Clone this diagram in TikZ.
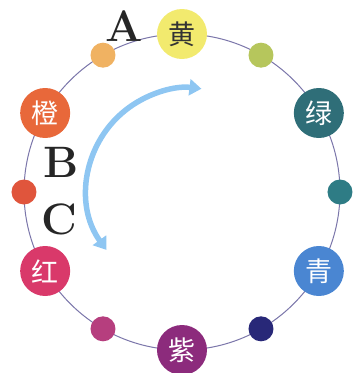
\documentclass[tikz,border=0pt]{standalone}
\usepackage{fontspec}
\newfontfamily\cjk{Noto Sans CJK SC}
\usetikzlibrary{arrows.meta,calc}

\definecolor{ringline}{HTML}{7B76AA}
\definecolor{huang}{HTML}{F2EA6E}
\definecolor{chengqian}{HTML}{F0B262}
\definecolor{cheng}{HTML}{E8683A}
\definecolor{hongqian}{HTML}{E0553C}
\definecolor{hong}{HTML}{D9396A}
\definecolor{ziqian}{HTML}{B63E7E}
\definecolor{zi}{HTML}{8C2B7C}
\definecolor{qingshen}{HTML}{282878}
\definecolor{qing}{HTML}{4A86D2}
\definecolor{lvshen}{HTML}{2E7C85}
\definecolor{lv}{HTML}{2F6E78}
\definecolor{huanglv}{HTML}{B6C65C}
\definecolor{arrowblue}{HTML}{8EC6F2}

\begin{document}
\begin{tikzpicture}
[ x=1pt, y=1pt
, main/.style={circle, minimum size=50pt, inner sep=0pt, text=white, font=\cjk\fontsize{27}{27}\selectfont}
, minor/.style={circle, minimum size=25pt, inner sep=0pt}
, letter/.style={font=\fontsize{44}{44}\selectfont\bfseries, text=black!85}
, bidir/.style={line width=5.5pt, draw=arrowblue, {Triangle[length=12pt,width=16pt]}-{Triangle[length=12pt,width=16pt]}}
]
\useasboundingbox (-182,-181) rectangle (171,192);
% the ring
\draw [ringline, line width=1pt] (0,0) circle (158);
% main colours
\node (huang) [main, fill=huang, text=black!80] at (90:158) {黄};
\node (cheng) [main, fill=cheng] at (150:158) {橙};
\node (hong) [main, fill=hong] at (210:158) {红};
\node (zi) [main, fill=zi] at (270:158) {紫};
\node (qing) [main, fill=qing] at (330:158) {青};
\node (lv) [main, fill=lv] at (30:158) {绿};
% in between
\node (chengqian) [minor, fill=chengqian] at (120:158) {};
\node (hongqian) [minor, fill=hongqian] at (180:158) {};
\node (ziqian) [minor, fill=ziqian] at (240:158) {};
\node (qingshen) [minor, fill=qingshen] at (300:158) {};
\node (lvshen) [minor, fill=lvshen] at (0:158) {};
\node (huanglv) [minor, fill=huanglv] at (60:158) {};
% letters
\node (a) [letter] at (-58,166) {A};
\node (b) [letter] at (-121,30) {B};
\node (c) [letter] at (-123,-27) {C};
% arrow
\coordinate (lo) at ($(7,2)+(216:102)$);
\draw [bidir] (lo) arc [start angle=216, end angle=83, radius=102];
\end{tikzpicture}
\end{document}
